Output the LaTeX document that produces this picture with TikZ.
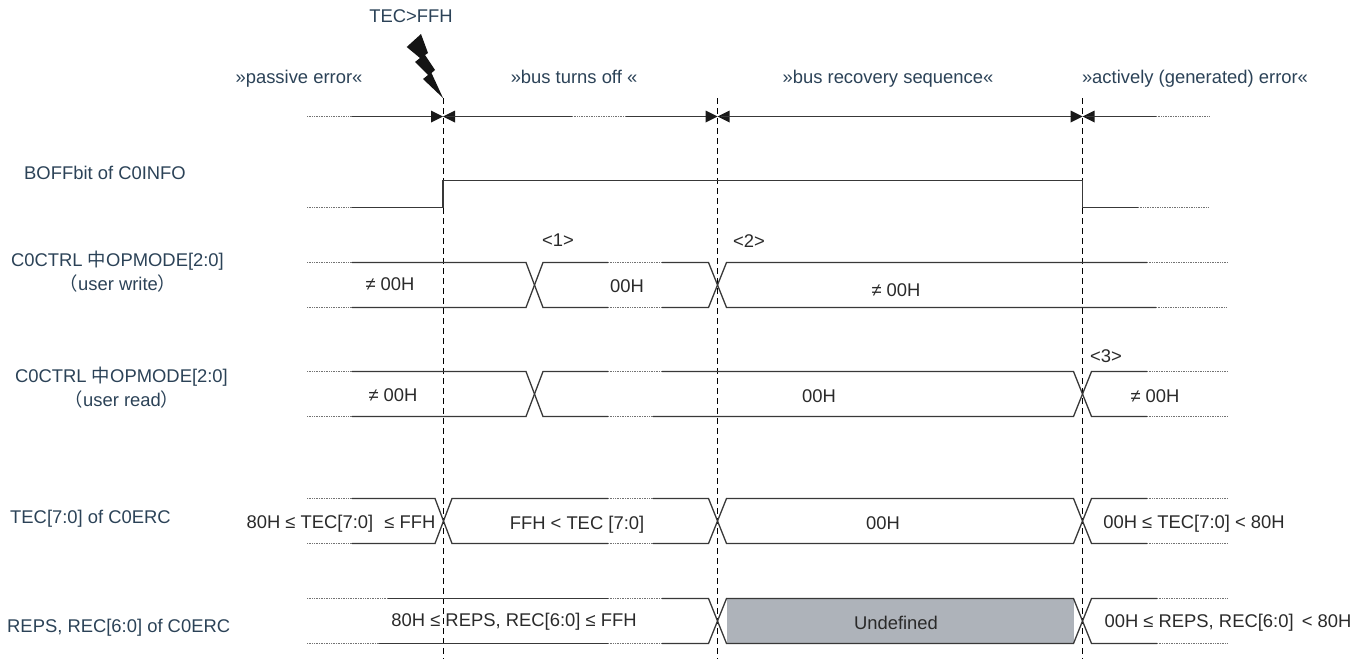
\documentclass[tikz,border=0pt]{standalone}
\usepackage{fontspec}
\setmainfont{Liberation Sans}
\newfontfamily\cjk{Noto Sans CJK SC}
\definecolor{labelblue}{HTML}{2B4257}
\definecolor{valink}{HTML}{2A2A2A}
\definecolor{undefgray}{HTML}{AEB3BA}
\tikzset{
  x=1pt,y=-1pt,
  sig/.style={draw=black!78,line width=1.3pt},
  dots/.style={draw=black!55,line width=1pt,dash pattern=on 1pt off 0.7pt},
  guide/.style={draw=black,line width=1pt,dash pattern=on 6pt off 4pt},
  lab/.style={font=\fontsize{18.4}{22}\selectfont,text=labelblue,inner sep=0pt},
  val/.style={font=\fontsize{18.4}{22}\selectfont,text=valink,inner sep=0pt},
  headfill/.style={fill=black!90},
}
\begin{document}
\begin{tikzpicture}
\useasboundingbox (0,0) rectangle (1369,659);
% guides
\coordinate (g1t) at (443,98); \coordinate (g1b) at (443,659);
\coordinate (g2t) at (717.5,98); \coordinate (g2b) at (717.5,659);
\coordinate (g3t) at (1082.5,98); \coordinate (g3b) at (1082.5,659);
\fill[undefgray] (727,598.5) rectangle (1074,644);
\draw[guide] (g1t)--(g1b); \draw[guide] (g2t)--(g2b); \draw[guide] (g3t)--(g3b);
% bolt
\fill[black!92] (421,34) -- (428,53) -- (425,55) -- (435,70) -- (431.5,73) -- (443,98) -- (423,79) -- (428,75) -- (415,62) -- (420,58) -- (406.7,47) -- cycle;
% phase arrows
\draw[dots] (307,116.5)--(352,116.5);
\draw[sig] (352,116.5)--(440,116.5);
\fill[headfill] (443,116.5)--(431,110.5)--(431,122.5)--cycle;
\fill[headfill] (443,116.5)--(455,110.5)--(455,122.5)--cycle;
\draw[sig] (446,116.5)--(572,116.5); \draw[dots] (572,116.5)--(626,116.5); \draw[sig] (626,116.5)--(714,116.5);
\fill[headfill] (717.5,116.5)--(705.5,110.5)--(705.5,122.5)--cycle;
\fill[headfill] (717.5,116.5)--(729.5,110.5)--(729.5,122.5)--cycle;
\draw[sig] (721,116.5)--(1079,116.5);
\fill[headfill] (1082.5,116.5)--(1070.5,110.5)--(1070.5,122.5)--cycle;
\fill[headfill] (1082.5,116.5)--(1094.5,110.5)--(1094.5,122.5)--cycle;
\draw[sig] (1086,116.5)--(1156,116.5); \draw[dots] (1156,116.5)--(1209,116.5);
% BOFF
\draw[dots] (307,207.5)--(352,207.5);
\draw[sig] (352,207.5)--(443,207.5)--(443,180.5)--(1082.5,180.5)--(1082.5,207.5)--(1138,207.5);
\draw[dots] (1138,207.5)--(1209,207.5);
% row write
\draw[dots] (307,262.5)--(352,262.5); \draw[dots] (307,307.5)--(352,307.5);
\draw[sig] (352,262.5)--(526,262.5)--(543,307.5)--(608,307.5);
\draw[sig] (352,307.5)--(526,307.5)--(543,262.5)--(608,262.5);
\draw[dots] (608,262.5)--(662,262.5); \draw[dots] (608,307.5)--(662,307.5);
\draw[sig] (662,262.5)--(708.5,262.5)--(726.5,307.5)--(1156,307.5);
\draw[sig] (662,307.5)--(708.5,307.5)--(726.5,262.5)--(1147,262.5);
\draw[dots] (1147,262.5)--(1227,262.5); \draw[dots] (1156,307.5)--(1227,307.5);
% row read
\draw[dots] (307,371.5)--(352,371.5); \draw[dots] (307,416.5)--(352,416.5);
\draw[sig] (352,371.5)--(526,371.5)--(543,416.5)--(608,416.5);
\draw[sig] (352,416.5)--(526,416.5)--(543,371.5)--(608,371.5);
\draw[dots] (608,371.5)--(662,371.5); \draw[dots] (608,416.5)--(653,416.5);
\draw[sig] (662,371.5)--(1073.5,371.5)--(1091.5,416.5)--(1147,416.5);
\draw[sig] (653,416.5)--(1073.5,416.5)--(1091.5,371.5)--(1147,371.5);
\draw[dots] (1147,371.5)--(1227,371.5); \draw[dots] (1147,416.5)--(1227,416.5);
% TEC
\draw[dots] (307,498.5)--(352,498.5); \draw[dots] (307,543.5)--(352,543.5);
\draw[sig] (352,498.5)--(435,498.5)--(452,543.5)--(608,543.5);
\draw[sig] (352,543.5)--(435,543.5)--(452,498.5)--(608,498.5);
\draw[dots] (608,498.5)--(653,498.5); \draw[dots] (608,543.5)--(653,543.5);
\draw[sig] (653,498.5)--(708.5,498.5)--(726.5,543.5)--(1073.5,543.5)--(1091.5,498.5)--(1147,498.5);
\draw[sig] (653,543.5)--(708.5,543.5)--(726.5,498.5)--(1073.5,498.5)--(1091.5,543.5)--(1147,543.5);
\draw[dots] (1147,498.5)--(1227,498.5); \draw[dots] (1147,543.5)--(1227,543.5);
% REC
\draw[dots] (307,598.5)--(388,598.5); \draw[dots] (307,643.5)--(379,643.5);
\draw[sig] (388,598.5)--(608,598.5); \draw[sig] (379,643.5)--(608,643.5);
\draw[dots] (608,598.5)--(662,598.5); \draw[dots] (608,643.5)--(662,643.5);
\draw[sig] (662,598.5)--(708.5,598.5)--(726.5,643.5)--(1073.5,643.5)--(1091.5,598.5)--(1157,598.5);
\draw[sig] (662,643.5)--(708.5,643.5)--(726.5,598.5)--(1073.5,598.5)--(1091.5,643.5)--(1157,643.5);
\draw[dots] (1157,598.5)--(1227,598.5); \draw[dots] (1157,643.5)--(1227,643.5);
% labels
\node[lab] (tec) at (411,16) {TEC>FFH};
\node[lab] (p1) at (299,78.5) {»passive error«};
\node[lab] (p2) at (574,77) {»bus turns off «};
\node[lab] (p3) at (888,78.5) {»bus recovery sequence«};
\node[lab] (p4) at (1195,78.5) {»actively (generated) error«};
\node[lab,anchor=west] (l1) at (24,173) {BOFFbit of C0INFO};
\node[lab] (l2) at (117.5,260.5) {C0CTRL {\cjk 中}OPMODE[2:0]};
\node[lab] (l2b) at (118,284) {{\cjk （}user write{\cjk ）}};
\node[lab] (l3) at (121.5,376.5) {C0CTRL {\cjk 中}OPMODE[2:0]};
\node[lab] (l3b) at (122,400) {{\cjk （}user read{\cjk ）}};
\node[lab,anchor=west] (l4) at (10,519) {TEC[7:0] of C0ERC};
\node[lab,anchor=west] (l5) at (7,628) {REPS, REC[6:0] of C0ERC};
\node[val] (n1) at (558,240) {<1>};
\node[val] (n2) at (749,241) {<2>};
\node[val] (n3) at (1106,356) {<3>};
\node[val] (a1) at (390,284.5) {≠ 00H};
\node[val] (a2) at (627,286.5) {00H};
\node[val] (a3) at (896,290.5) {≠ 00H};
\node[val] (b1) at (393,395.5) {≠ 00H};
\node[val] (b2) at (819,396) {00H};
\node[val] (b3) at (1155,396) {≠ 00H};
\node[val] (c1) at (341,523.5) {80H ≤ TEC[7:0]\,\, ≤ FFH};
\node[val] (c2) at (577,525) {FFH < TEC [7:0]};
\node[val] (c3) at (883,523) {00H};
\node[val] (c4) at (1194,523.5) {00H ≤ TEC[7:0] < 80H};
\node[val] (d1) at (514,622) {80H ≤ REPS, REC[6:0] ≤ FFH};
\node[val] (d2) at (896,623) {Undefined};
\node[val] (d3) at (1228,622.5) {00H ≤ REPS, REC[6:0]\, < 80H};
\end{tikzpicture}
\end{document}
